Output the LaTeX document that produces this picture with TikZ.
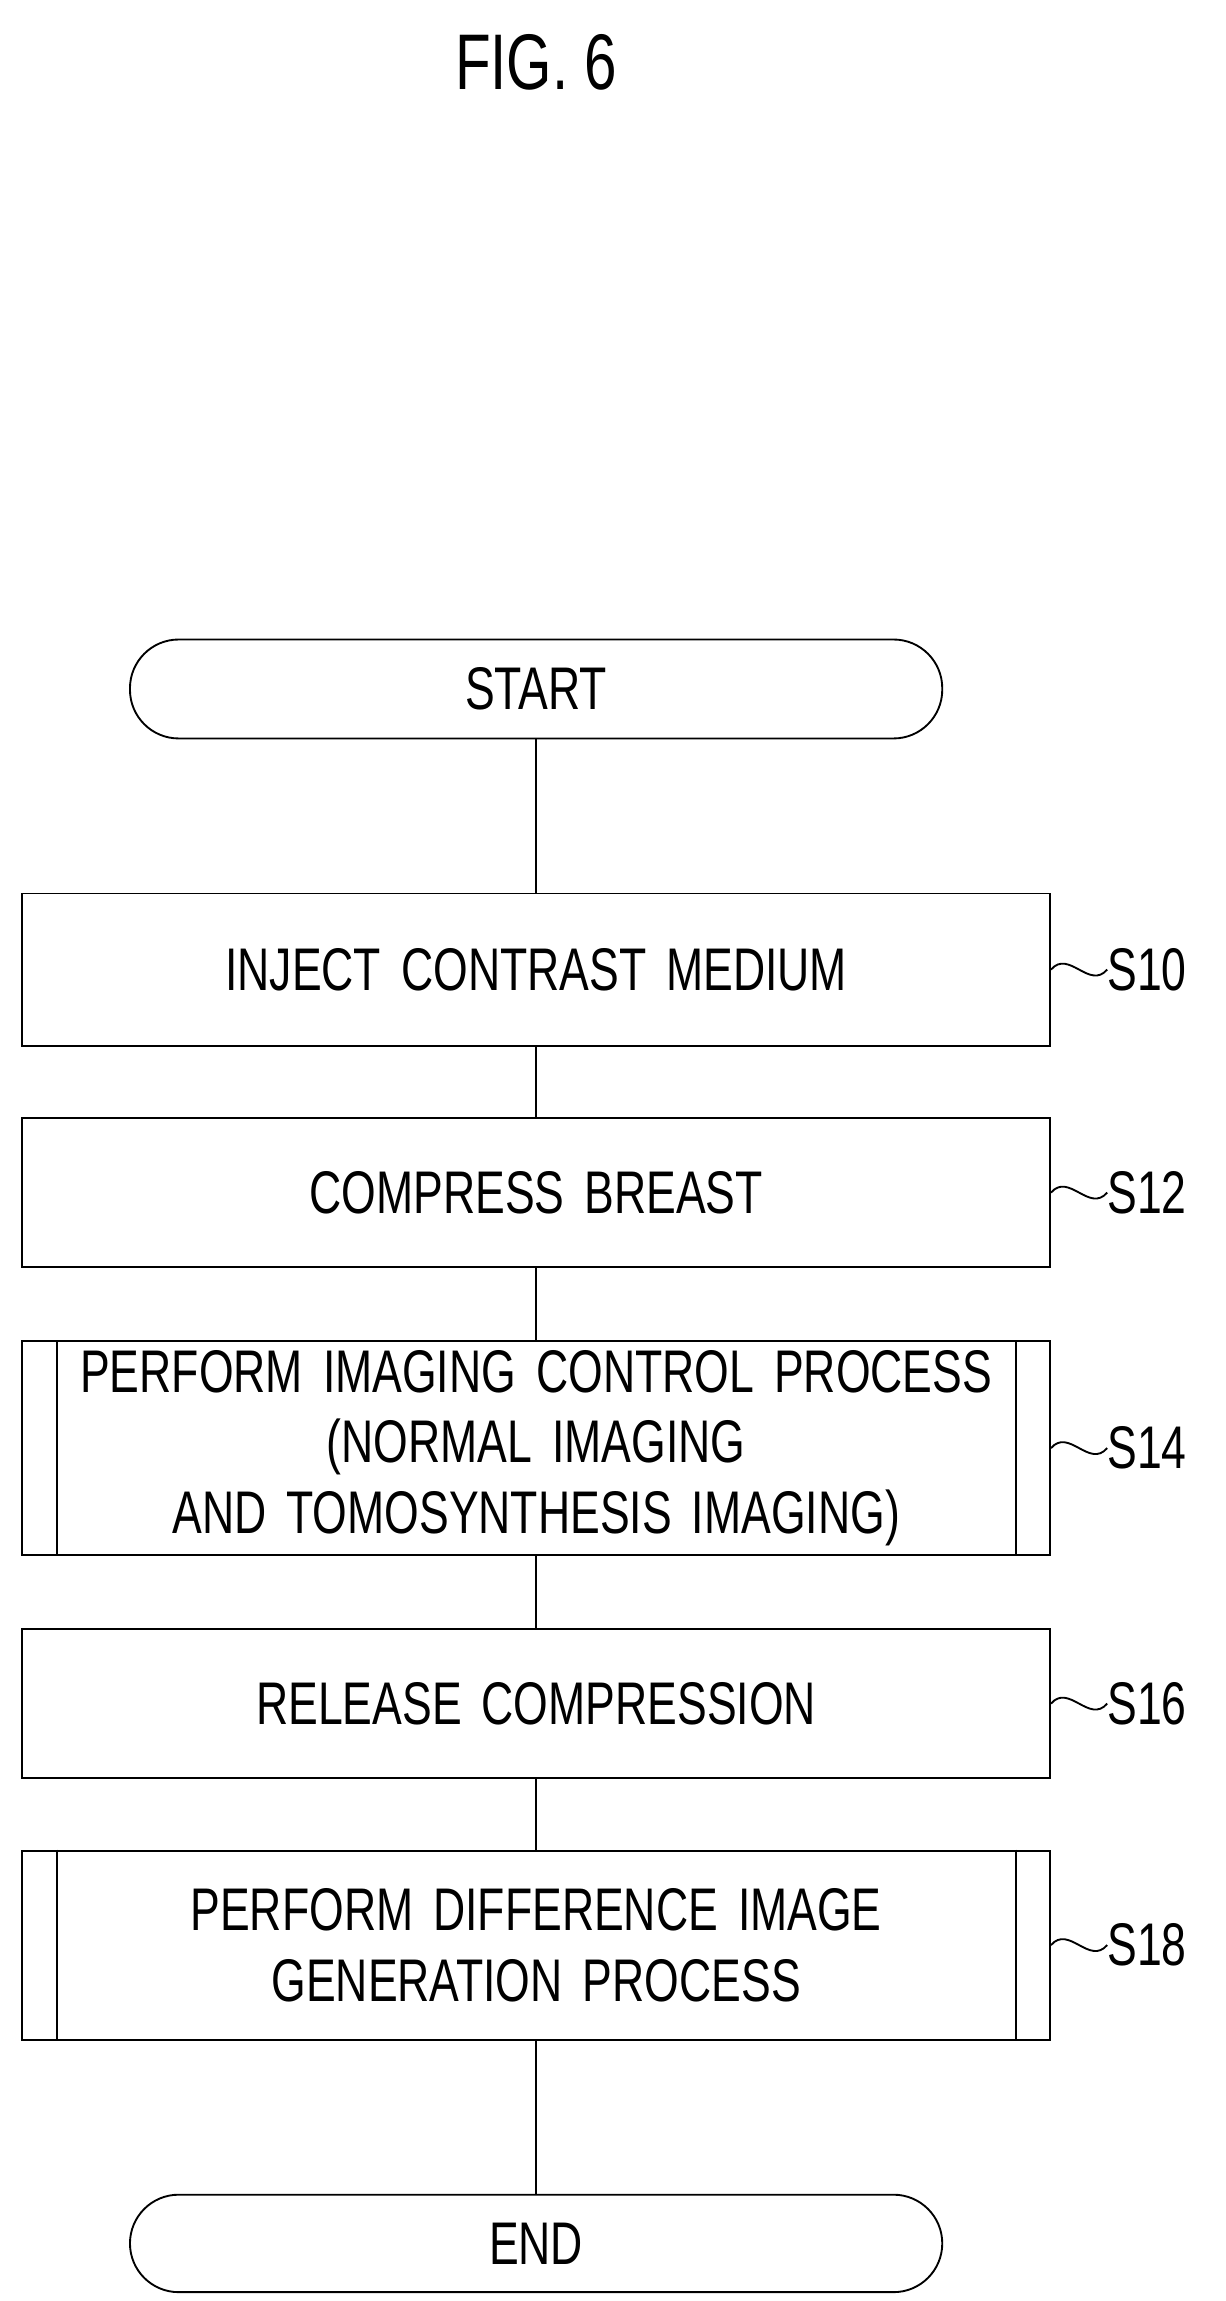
\documentclass[tikz,border=0pt]{standalone}
\usepackage{fontspec}
\setmainfont{Liberation Sans}[FakeStretch=0.74]
\begin{document}
\begin{tikzpicture}[x=0.5mm,y=-0.5mm,
  box/.style={draw,line width=1.8pt,text width=348mm,inner sep=0pt,align=center,font=\fontsize{58}{68}\selectfont},
  lbl/.style={font=\fontsize{58}{68}\selectfont,anchor=west},
  ln/.style={line width=1.8pt}]
\useasboundingbox (0,0) rectangle (830,1558);
\node[font=\fontsize{76}{90}\selectfont] (t) at (363,42) {FIG. 6};
\node[draw,line width=1.8pt,rounded corners=16.5mm,minimum width=275mm,minimum height=33.5mm,font=\fontsize{58}{68}\selectfont] (start) at (363,466.5) {START};
\node[box,minimum height=51.5mm] (s10) at (363,656.5) {INJECT CONTRAST MEDIUM};
\node[box,minimum height=50.5mm] (s12) at (363,807.5) {COMPRESS BREAST};
\node[box,minimum height=72.5mm] (s14) at (363,980.5) {PERFORM IMAGING CONTROL PROCESS\\(NORMAL IMAGING\\AND TOMOSYNTHESIS IMAGING)};
\node[box,minimum height=50.5mm] (s16) at (363,1153.5) {RELEASE COMPRESSION};
\node[box,minimum height=64mm] (s18) at (363,1317) {PERFORM DIFFERENCE IMAGE\\GENERATION PROCESS};
\node[draw,line width=1.8pt,rounded corners=16.5mm,minimum width=275mm,minimum height=33mm,font=\fontsize{58}{68}\selectfont] (end) at (363,1519) {END};
\foreach \n in {s14,s18}{
  \draw[ln] ([xshift=12mm]\n.north west) -- ([xshift=12mm]\n.south west);
  \draw[ln] ([xshift=-12mm]\n.north east) -- ([xshift=-12mm]\n.south east);}
\draw[ln] (start) -- (s10);
\draw[ln] (s10) -- (s12);
\draw[ln] (s12) -- (s14);
\draw[ln] (s14) -- (s16);
\draw[ln] (s16) -- (s18);
\draw[ln] (s18) -- (end);
\foreach \n/\t in {s10/S10,s12/S12,s14/S14,s16/S16,s18/S18}{
  \node[lbl,inner sep=0pt] (l\n) at ([xshift=19mm]\n.east) {\t};
  \draw[ln] (\n.east) .. controls ++(12,-14) and ++(-12,14) .. (l\n.west);}
\end{tikzpicture}
\end{document}
